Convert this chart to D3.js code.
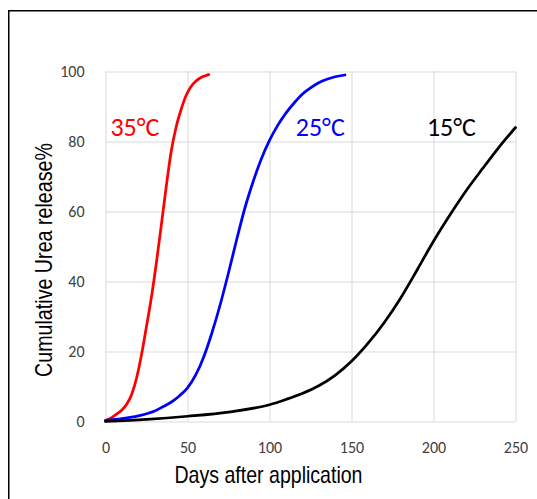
<!DOCTYPE html>
<html>
<head>
<meta charset="utf-8">
<script src="https://cdn.jsdelivr.net/npm/d3@7"></script>
<style>
  html, body { margin: 0; padding: 0; background: #fff; }
  svg { display: block; }
</style>
</head>
<body>
<div id="chart"></div>
<script>
// axis ticks
const xTicks = [0, 50, 100, 150, 200, 250]
const yTicks = [0, 20, 40, 60, 80, 100]

// 35°C
const days35 = [0, 4, 7, 10, 13, 16, 19, 22, 25, 28, 31, 34, 37, 40, 43, 46, 49, 52, 55, 58, 61, 63]
const release35 = [0.3, 1.2, 2.2, 3.3, 5, 7.8, 12.5, 19.2, 27.2, 35.5, 45.3, 56, 67, 77, 84, 89, 93, 95.6, 97.2, 98.2, 98.8, 99.1]

// 25°C
const days25 = [0, 10, 20, 30, 35, 40, 45, 50, 55, 60, 65, 70, 75, 80, 85, 90, 95, 100, 105, 110, 115, 120, 125, 130, 135, 140, 146]
const release25 = [0.3, 0.8, 1.6, 3, 4.2, 5.5, 7.3, 9.6, 13.3, 18.6, 25.5, 33.5, 42.5, 52, 61, 68.5, 75, 80.3, 84.6, 88.1, 91, 93.5, 95.3, 96.8, 97.8, 98.5, 99]

// 15°C
const days15 = [0, 25, 50, 75, 100, 110, 120, 130, 140, 150, 160, 170, 180, 190, 200, 210, 220, 230, 240, 250]
const release15 = [0, 0.6, 1.5, 2.7, 4.8, 6.3, 8, 10.2, 13.2, 17.2, 22.3, 28.3, 35.3, 43.3, 51.5, 59, 66, 72.3, 78.4, 84]

const seriesNames = ['35°C', '25°C', '15°C']
const seriesColors = ['#ff0000', '#0000ff', '#000000']

const W = 537, H = 499
const tickFont = '"Carlito", "Open Sans", sans-serif'
const titleFont = '"Liberation Sans Narrow", "Arial Narrow", "Liberation Sans", sans-serif'

const series = [
  { name: seriesNames[0], color: seriesColors[0], values: days35.map((d, i) => ({ day: d, pct: release35[i] })) },
  { name: seriesNames[1], color: seriesColors[1], values: days25.map((d, i) => ({ day: d, pct: release25[i] })) },
  { name: seriesNames[2], color: seriesColors[2], values: days15.map((d, i) => ({ day: d, pct: release15[i] })) }
]

const svg = d3.select('#chart')
  .append('svg')
  .attr('width', W)
  .attr('height', H)

// frame (left + top edges only)
svg.append('path')
  .attr('d', 'M8.75,' + H + 'V10.75H' + W)
  .attr('fill', 'none')
  .attr('stroke', '#000')
  .attr('stroke-width', 1.5)

const x = d3.scaleLinear().domain([0, 250]).range([105.5, 515.5])
const y = d3.scaleLinear().domain([0, 100]).range([421.5, 71.5])

// gridlines + tick labels
const xAxis = svg.append('g')
  .attr('transform', 'translate(0,' + y(0) + ')')
  .call(d3.axisBottom(x).tickValues(xTicks).tickSize(-(y(0) - y(100))).tickPadding(20))
xAxis.select('.domain').remove()

const yAxis = svg.append('g')
  .attr('transform', 'translate(' + x(0) + ',0)')
  .call(d3.axisLeft(y).tickValues(yTicks).tickSize(-(x(250) - x(0))).tickPadding(21))
yAxis.select('.domain').remove()

svg.selectAll('.tick line')
  .attr('stroke', '#d9d9d9')
  .attr('stroke-width', 1)
svg.selectAll('.tick text')
  .attr('fill', '#404040')
  .style('font-family', tickFont)
  .style('font-size', '16px')

// curves
const line = d3.line()
  .x(d => x(d.day))
  .y(d => y(d.pct))
  .curve(d3.curveMonotoneX)

svg.append('g')
  .selectAll('path')
  .data(series)
  .join('path')
  .attr('fill', 'none')
  .attr('stroke', d => d.color)
  .attr('stroke-width', 2.75)
  .attr('stroke-linejoin', 'round')
  .attr('stroke-linecap', 'round')
  .attr('d', d => line(d.values))

// series labels, placed in data units
const labelAt = [[3, 81.5], [116, 81.5], [196, 81.5]]
svg.append('g')
  .selectAll('text')
  .data(series)
  .join('text')
  .attr('x', (d, i) => x(labelAt[i][0]))
  .attr('y', (d, i) => y(labelAt[i][1]))
  .attr('fill', d => d.color)
  .attr('textLength', 49)
  .attr('lengthAdjust', 'spacingAndGlyphs')
  .style('font-family', tickFont)
  .style('font-size', '26px')
  .text(d => d.name)

// axis titles
svg.append('text')
  .attr('x', 268.5)
  .attr('y', 482.5)
  .attr('text-anchor', 'middle')
  .attr('textLength', 188)
  .attr('lengthAdjust', 'spacingAndGlyphs')
  .style('font-family', titleFont)
  .style('font-size', '24px')
  .text('Days after application')

svg.append('text')
  .attr('transform', 'translate(51.5,260) rotate(-90)')
  .attr('text-anchor', 'middle')
  .attr('textLength', 234)
  .attr('lengthAdjust', 'spacingAndGlyphs')
  .style('font-family', titleFont)
  .style('font-size', '24px')
  .text('Cumulative Urea release%')
</script>
</body>
</html>
